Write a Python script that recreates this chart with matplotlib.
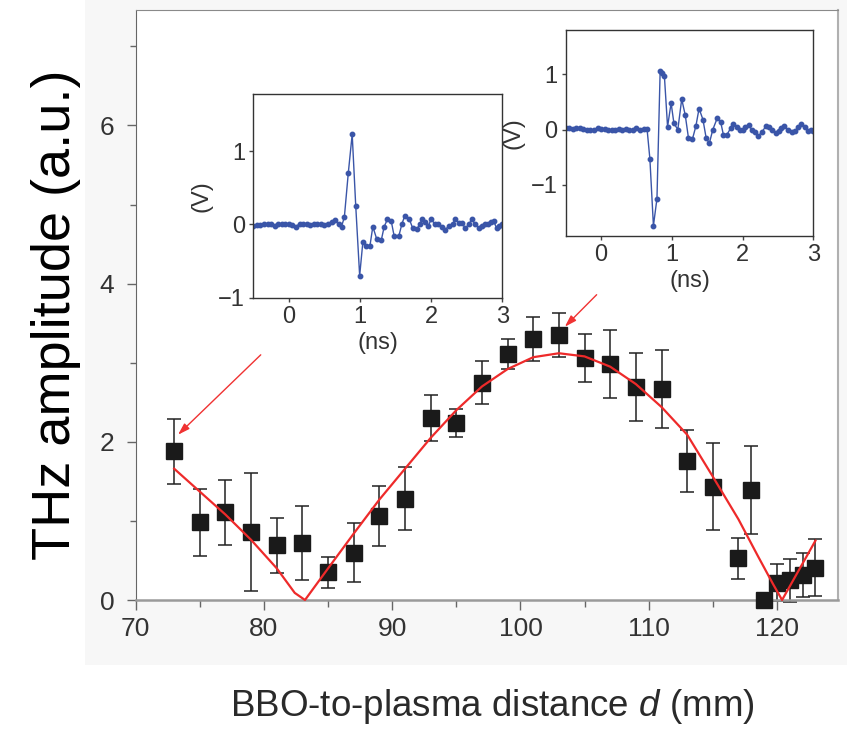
import matplotlib
matplotlib.use("Agg")
import matplotlib.pyplot as plt
from matplotlib.patches import Rectangle

plt.rcParams['font.family'] = ['Liberation Sans', 'DejaVu Sans']
plt.rcParams['mathtext.fontset'] = 'custom'
plt.rcParams['mathtext.it'] = 'Liberation Sans:italic'
plt.rcParams['mathtext.rm'] = 'Liberation Sans'

# main data: BBO-to-plasma distance (mm), THz amplitude, error
dist = [73, 75, 77, 79, 81, 83, 85, 87, 89, 91, 93, 95, 97, 99, 101, 103, 105,
        107, 109, 111, 113, 115, 117, 118, 119, 120, 121, 122, 123]
amp = [1.88, 0.98, 1.11, 0.86, 0.69, 0.72, 0.35, 0.60, 1.06, 1.28, 2.30, 2.24,
       2.75, 3.11, 3.30, 3.35, 3.06, 2.99, 2.69, 2.67, 1.76, 1.43, 0.53, 1.39,
       0.00, 0.22, 0.25, 0.32, 0.41]
amp_err = [0.41, 0.42, 0.41, 0.75, 0.35, 0.47, 0.20, 0.37, 0.38, 0.40, 0.29, 0.18,
           0.27, 0.19, 0.28, 0.28, 0.30, 0.43, 0.43, 0.49, 0.39, 0.55, 0.26, 0.56,
           0.00, 0.23, 0.27, 0.28, 0.36]

# fitted curve
fit_x = [73, 75, 77, 79, 81, 82.4, 83.2, 85, 87, 89, 91, 93, 95, 97, 99, 101, 103,
         105, 107, 109, 111, 113, 115, 117, 118.5, 119.7, 120.4, 123]
fit_y = [1.66, 1.37, 1.08, 0.76, 0.40, 0.09, 0.0, 0.40, 0.84, 1.27, 1.66, 2.05, 2.40,
         2.70, 2.92, 3.07, 3.12, 3.08, 2.95, 2.73, 2.44, 2.09, 1.56, 1.02, 0.56,
         0.20, 0.0, 0.75]

# inset 1 waveform (d = 73 mm)
t1 = [-0.50, -0.45, -0.40, -0.35, -0.30, -0.25, -0.20, -0.15, -0.10, -0.05, 0.00,
      0.05, 0.10, 0.15, 0.20, 0.25, 0.30, 0.35, 0.40, 0.45, 0.50, 0.55, 0.60, 0.65,
      0.70, 0.74,
      0.78, 0.835, 0.89, 0.94, 0.995, 1.04, 1.09, 1.14, 1.18, 1.235,
      1.30, 1.34, 1.385, 1.44, 1.48, 1.545, 1.59, 1.63, 1.69, 1.74,
      1.80, 1.84, 1.87, 1.92, 1.96, 2.00, 2.05, 2.10, 2.15, 2.20,
      2.25, 2.30, 2.34, 2.39, 2.43, 2.48, 2.53, 2.57, 2.62, 2.67,
      2.72, 2.76, 2.80, 2.84, 2.88, 2.92, 2.96, 3.00]
v1 = [-0.02, -0.01, -0.01, 0.0, 0.01, 0.0, -0.02, 0.01, 0.0, 0.0, 0.01,
      -0.01, -0.03, 0.01, 0.0, 0.0, -0.01, 0.0, 0.0, 0.01, -0.01, 0.01, 0.03, 0.06,
      0.0, -0.03,
      0.10, 0.70, 1.23, 0.25, -0.70, -0.24, -0.29, -0.29, -0.03, -0.20,
      -0.21, -0.03, 0.07, 0.04, -0.16, -0.16, 0.01, 0.12, 0.08, -0.05,
      -0.06, 0.0, 0.07, 0.03, -0.02, 0.07, 0.01, 0.01, -0.04, -0.07,
      -0.02, 0.0, 0.08, 0.02, 0.02, -0.05, 0.0, 0.07, 0.0, -0.05,
      -0.02, 0.0, 0.01, 0.03, 0.04, -0.05, -0.02, 0.01]

# inset 2 waveform (d = 103 mm)
t2 = [-0.50, -0.45, -0.40, -0.35, -0.30, -0.25, -0.20, -0.15, -0.10, -0.05, 0.00,
      0.05, 0.10, 0.15, 0.20, 0.25, 0.30, 0.35, 0.40, 0.45, 0.50, 0.55, 0.60, 0.65,
      0.69, 0.74, 0.79, 0.835, 0.865, 0.895, 0.94, 0.99, 1.03, 1.085,
      1.14, 1.19, 1.235, 1.29, 1.34, 1.385, 1.44, 1.485, 1.53, 1.58,
      1.64, 1.69, 1.73, 1.78, 1.83, 1.87, 1.92, 1.96, 2.00, 2.04,
      2.085, 2.13, 2.18, 2.22, 2.27, 2.33, 2.37, 2.42, 2.47, 2.51,
      2.55, 2.59, 2.64, 2.70, 2.74, 2.79, 2.83, 2.88, 2.93, 2.97, 3.00]
v2 = [0.03, 0.02, 0.01, 0.02, 0.03, 0.01, 0.0, 0.0, -0.01, 0.02, 0.01,
      0.01, 0.0, -0.01, 0.0, 0.01, 0.0, 0.01, -0.01, 0.0, 0.02, 0.0, 0.01, 0.01,
      -0.53, -1.74, -1.25, 1.05, 1.02, 0.97, 0.05, 0.48, 0.11, 0.0,
      0.55, 0.26, -0.15, -0.18, 0.06, 0.38, 0.18, -0.15, -0.25, 0.0,
      0.20, 0.14, -0.10, -0.09, 0.02, 0.10, 0.04, -0.01, 0.0, 0.05,
      0.08, 0.0, -0.04, -0.12, -0.05, 0.06, 0.05, 0.0, -0.06, -0.02,
      0.03, 0.06, 0.0, -0.04, -0.02, 0.04, 0.10, 0.04, -0.03, 0.0, -0.03]

W, H = 847, 729
fig = plt.figure(figsize=(W / 100, H / 100), dpi=100)
fig.patches.append(Rectangle((85 / W, 1 - 665 / H), 1 - 85 / W, 665 / H,
                             transform=fig.transFigure, facecolor='#f7f7f7',
                             edgecolor='none', zorder=-10))

ax = fig.add_axes([135.7 / W, 1 - 600 / H, (838 - 135.7) / W, 590 / H])
ax.errorbar(dist, amp, yerr=amp_err, fmt='none', ecolor='#222222', elinewidth=1.1,
            capsize=4.8, capthick=1.1, zorder=2, clip_on=False)
ax.plot(dist, amp, 's', color='#1a1a1a', markersize=11, zorder=3, clip_on=False)
ax.plot(fit_x, fit_y, '-', color='#ee2a2a', lw=1.6, zorder=4, clip_on=False)

ax.set_xlim(70, 124.76)
ax.set_ylim(0, 7.46)
ax.set_xticks([70, 80, 90, 100, 110, 120])
ax.set_xticks([75, 85, 95, 105, 115], minor=True)
ax.set_yticks([0, 2, 4, 6])
ax.set_yticks([1, 3, 5, 7], minor=True)
ax.tick_params(axis='both', which='both', direction='out', colors='#666666',
               labelcolor='#333333', labelsize=19, width=1)
ax.tick_params(axis='x', which='major', length=7, pad=5)
ax.tick_params(axis='x', which='minor', length=5)
ax.tick_params(axis='y', which='major', length=6.5, pad=9)
ax.tick_params(axis='y', which='minor', length=4)
ax.spines['left'].set_color('#666666')
ax.spines['bottom'].set_color('#9a9a9a')
ax.spines['bottom'].set_linewidth(1.8)
ax.spines['top'].set_color('#8a8a8a')
ax.spines['right'].set_color('#b0b0b0')
ax.spines['right'].set_linewidth(1.5)

arrow = dict(arrowstyle='-|>,head_length=0.7,head_width=0.22', color='#f03232',
             lw=1, shrinkA=0, shrinkB=0)
ax.annotate('', xy=(73.3, 2.09), xytext=(79.75, 3.10), arrowprops=arrow)
ax.annotate('', xy=(103.46, 3.455), xytext=(105.94, 3.86), arrowprops=arrow)

fig.text(56 / W, 1 - 315 / H, 'THz amplitude (a.u.)', rotation=90, ha='center',
         va='center', fontsize=39, color='#000000')
fig.text(492 / W, 1 - 707 / H, r'BBO-to-plasma distance $d$ (mm)', ha='center',
         va='center', fontsize=26.5, color='#2a2a2a')

blue = '#3a55a8'
insets = [
    ([253.3, 94, 502.3, 297.7], t1, v1, (-1.0, 1.78)),
    ([565.7, 30, 813.3, 235.7], t2, v2, (-1.92, 1.80)),
]
for (x0, y0, x1, y1), tt, vv, ylim in insets:
    ia = fig.add_axes([x0 / W, 1 - y1 / H, (x1 - x0) / W, (y1 - y0) / H])
    ia.plot(tt, vv, '-', color=blue, lw=1.0, marker='o', markersize=3.2,
            markerfacecolor=blue, markeredgecolor=blue)
    ia.set_xlim(-0.5, 3.0)
    ia.set_ylim(*ylim)
    ia.set_xticks([0, 1, 2, 3])
    ia.set_yticks([-1, 0, 1])
    ia.tick_params(direction='out', length=3, width=1, labelsize=17, pad=3,
                   colors='#444444', labelcolor='#333333')
    for s in ia.spines.values():
        s.set_color('#333333')
        s.set_linewidth(1)
    ia.set_xlabel('(ns)', fontsize=17, color='#333333', labelpad=3)
    ia.set_ylabel('(V)', fontsize=17, color='#333333', labelpad=4)

fig.savefig('out.png', dpi=100)
